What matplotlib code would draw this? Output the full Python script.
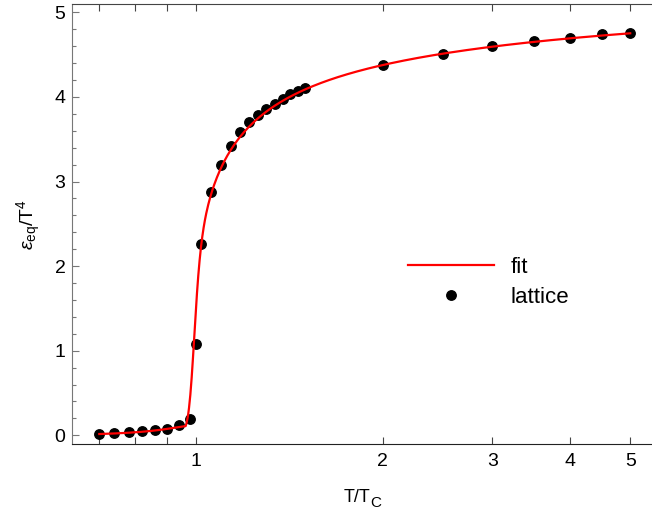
import numpy as np
import matplotlib
matplotlib.use('Agg')
import matplotlib.pyplot as plt
from matplotlib import rcParams

rcParams['font.family'] = ['Liberation Sans', 'DejaVu Sans']
rcParams['mathtext.fontset'] = 'custom'
rcParams['mathtext.rm'] = 'Liberation Sans'
rcParams['mathtext.it'] = 'Liberation Sans:italic'

# 格点数据 (T/Tc, ε/T^4)
t_lat = [0.70, 0.74, 0.78, 0.82, 0.86, 0.90, 0.94, 0.98, 1.00, 1.02, 1.06,
         1.10, 1.14, 1.18, 1.22, 1.26, 1.30, 1.34, 1.38, 1.42, 1.46, 1.50,
         2.0, 2.5, 3.0, 3.5, 4.0, 4.5, 5.0]
e_lat = [0.015, 0.03, 0.04, 0.05, 0.06, 0.08, 0.12, 0.19, 1.08, 2.26, 2.87,
         3.20, 3.42, 3.58, 3.70, 3.79, 3.86, 3.92, 3.98, 4.03, 4.07, 4.10,
         4.38, 4.51, 4.60, 4.66, 4.70, 4.74, 4.76]

# 拟合参数
c_low, n_low = 0.149, 6.4          # 低温段 c*t^n
a_hi, b_hi, t1_hi, p_hi = 5.144, 0.79, 0.94, 0.5   # 高温段 a - b*(t-t1)^-p
t0_s, w_s = 0.9892, 0.0223        # 过渡 tanh


def fit(t):
    s = 0.5 * (1 + np.tanh((t - t0_s) / w_s))
    low = c_low * t ** n_low
    base = np.clip(t - t1_hi, 1e-6, None)
    high = np.clip(a_hi - b_hi * base ** (-p_hi), 0, None)
    return low * (1 - s) + s * high


t_fit = np.geomspace(0.70, 5.0, 800)

fig = plt.figure(figsize=(6.52, 5.15), dpi=100)
ax = fig.add_axes([71.7 / 652, 70.7 / 515, 579.3 / 652, 440 / 515])

ax.plot(t_lat, e_lat, 'o', color='black', markersize=6.8, zorder=2, label='lattice')
ax.plot(t_fit, fit(t_fit), color='red', linewidth=1.6, zorder=3, label='fit')

ax.set_xscale('log')
ax.set_xlim(0.632, 5.40)
ax.set_ylim(-0.1064, 5.0946)

ax.set_xticks([0.7, 0.8, 0.9, 1, 2, 3, 4, 5], ['', '', '', '1', '2', '3', '4', '5'])
ax.xaxis.set_minor_locator(matplotlib.ticker.NullLocator())
ax.set_yticks([0, 1, 2, 3, 4, 5], ['0', '1', '2', '3', '4', '5'])
ax.set_yticks(np.arange(0, 5.01, 0.2), minor=True)

ax.tick_params(axis='both', which='both', direction='in', labelsize=14)
ax.tick_params(axis='x', which='major', length=4.8, width=0.8, top=True, pad=6, color='#444444')
ax.tick_params(axis='y', which='major', length=4.8, width=0.8, right=False, pad=4.5, color='#777777')
ax.tick_params(axis='y', which='minor', length=2.9, width=0.8, right=False, color='#777777')

ax.spines['right'].set_visible(False)
ax.spines['left'].set_color('#777777')
ax.spines['bottom'].set_color('#222222')
ax.spines['top'].set_color('#444444')

ax.set_ylabel(r'$\varepsilon_{\mathrm{eq}}/\mathrm{T}^{4}$', fontsize=14, labelpad=8)

# x 轴标签 (下标较大)
fig.text(343.3 / 652, (515 - 501.7) / 515, 'T/T', fontsize=13, ha='left', va='baseline')
fig.text(370.0 / 652, (515 - 506.7) / 515, 'C', fontsize=11, ha='left', va='baseline')

h, l = ax.get_legend_handles_labels()
ax.legend([h[1], h[0]], [l[1], l[0]], loc='center left',
          bbox_to_anchor=(408 / 652, (515 - 282.5) / 515), bbox_transform=fig.transFigure,
          frameon=False, fontsize=16, handlelength=3.87, handletextpad=0.75,
          labelspacing=0.4, borderpad=0, borderaxespad=0)

plt.savefig('out.png', dpi=100)
